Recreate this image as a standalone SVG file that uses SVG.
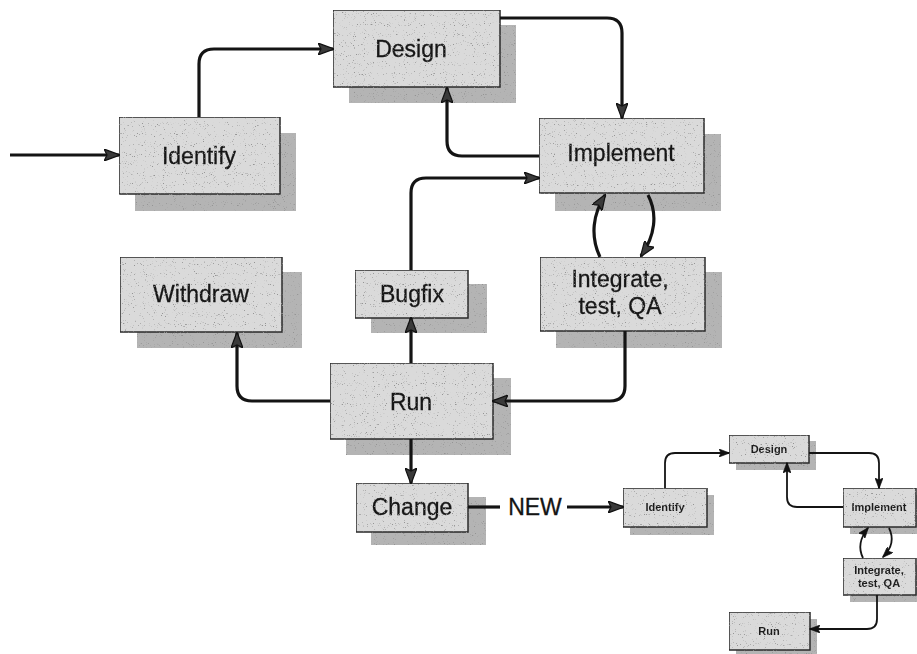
<svg xmlns="http://www.w3.org/2000/svg" width="917" height="654" viewBox="0 0 917 654">
  <style>
    .box { fill: #dadada; stroke: #2a2a2a; stroke-width: 1.5; }
    .shadow { fill: #b4b4b4; }
    .lbl { font-family: "Liberation Sans", Arial, sans-serif; font-size: 23px; fill: #141414; stroke: #141414; stroke-width: 0.3; text-anchor: middle; }
    .sm { font-family: "Liberation Sans", Arial, sans-serif; font-size: 11px; font-weight: bold; fill: #1e1e1e; text-anchor: middle; }
    .wire { fill: none; stroke: #141414; stroke-width: 3.2; }
    .wire-sm { fill: none; stroke: #141414; stroke-width: 1.8; }
  </style>
  <defs>
    <!-- sparse speckled print texture for the boxes and their drop shadows -->
    <filter id="grain" x="0" y="0" width="100%" height="100%">
      <feTurbulence type="fractalNoise" baseFrequency="0.9" numOctaves="1" seed="7" result="noise"/>
      <feColorMatrix in="noise" type="matrix" values="0 0 0 0 0.3  0 0 0 0 0.3  0 0 0 0 0.3  -9 0 0 0 3.2" result="dots"/>
      <feComposite in="dots" in2="SourceGraphic" operator="in" result="clip"/>
      <feMerge><feMergeNode in="SourceGraphic"/><feMergeNode in="clip"/></feMerge>
    </filter>
    <marker id="arr" viewBox="0 0 16 12" refX="15" refY="6" markerWidth="16" markerHeight="12" markerUnits="userSpaceOnUse" orient="auto">
      <path d="M0,0 L16,6 L0,12 L3,6 Z" fill="#3a3a3a" stroke="#111" stroke-width="1.2"/>
    </marker>
    <marker id="arr-sm" viewBox="0 0 16 12" refX="15" refY="6" markerWidth="11" markerHeight="8" markerUnits="userSpaceOnUse" orient="auto">
      <path d="M0,0 L16,6 L0,12 L3,6 Z" fill="#111" stroke="#111" stroke-width="1"/>
    </marker>
  </defs>

  <rect width="917" height="654" fill="#ffffff"/>

  <!-- main lifecycle -->
  <g id="identify" filter="url(#grain)">
    <rect class="shadow" x="135" y="133" width="161" height="78"/>
    <rect class="box" x="119" y="117" width="161" height="77"/>
    <text class="lbl" x="199" y="164">Identify</text>
  </g>
  <g id="design" filter="url(#grain)">
    <rect class="shadow" x="349" y="25" width="167" height="78"/>
    <rect class="box" x="333" y="10" width="167" height="77"/>
    <text class="lbl" x="411" y="57">Design</text>
  </g>
  <g id="implement" filter="url(#grain)">
    <rect class="shadow" x="555" y="134" width="166" height="77"/>
    <rect class="box" x="539" y="118" width="165" height="75"/>
    <text class="lbl" x="621" y="161">Implement</text>
  </g>
  <g id="integrate" filter="url(#grain)">
    <rect class="shadow" x="556" y="272" width="166" height="76"/>
    <rect class="box" x="540" y="257" width="165" height="74"/>
    <text class="lbl" x="620" y="287">Integrate,</text>
    <text class="lbl" x="620" y="314">test, QA</text>
  </g>
  <g id="withdraw" filter="url(#grain)">
    <rect class="shadow" x="137" y="272" width="165" height="76"/>
    <rect class="box" x="120" y="257" width="162" height="75"/>
    <text class="lbl" x="201" y="302">Withdraw</text>
  </g>
  <g id="bugfix" filter="url(#grain)">
    <rect class="shadow" x="371" y="284" width="116" height="49"/>
    <rect class="box" x="355" y="270" width="113" height="48"/>
    <text class="lbl" x="412" y="302">Bugfix</text>
  </g>
  <g id="run" filter="url(#grain)">
    <rect class="shadow" x="346" y="378" width="165" height="77"/>
    <rect class="box" x="330" y="363" width="163" height="76"/>
    <text class="lbl" x="411" y="410">Run</text>
  </g>
  <g id="change" filter="url(#grain)">
    <rect class="shadow" x="371" y="497" width="115" height="48"/>
    <rect class="box" x="356" y="483" width="112" height="49"/>
    <text class="lbl" x="412" y="515">Change</text>
  </g>

  <!-- the cycle started again, in miniature -->
  <g id="identify-new" filter="url(#grain)">
    <rect class="shadow" x="630" y="495" width="84" height="40"/>
    <rect class="box" x="623" y="488" width="84" height="39"/>
    <text class="sm" x="665" y="511">Identify</text>
  </g>
  <g id="design-new" filter="url(#grain)">
    <rect class="shadow" x="736" y="441" width="80" height="29"/>
    <rect class="box" x="729" y="435" width="80" height="28"/>
    <text class="sm" x="769" y="453">Design</text>
  </g>
  <g id="implement-new" filter="url(#grain)">
    <rect class="shadow" x="850" y="495" width="67" height="39"/>
    <rect class="box" x="843" y="488" width="73" height="39"/>
    <text class="sm" x="879" y="511">Implement</text>
  </g>
  <g id="integrate-new" filter="url(#grain)">
    <rect class="shadow" x="850" y="565" width="67" height="37"/>
    <rect class="box" x="843" y="558" width="73" height="37"/>
    <text class="sm" x="879" y="574">Integrate,</text>
    <text class="sm" x="879" y="587">test, QA</text>
  </g>
  <g id="run-new" filter="url(#grain)">
    <rect class="shadow" x="736" y="619" width="81" height="35"/>
    <rect class="box" x="729" y="612" width="81" height="38"/>
    <text class="sm" x="769" y="635">Run</text>
  </g>

  <g id="connectors">
    <path class="wire" d="M10,155 H119" marker-end="url(#arr)"/>
    <path class="wire" d="M199,117 V64 Q199,49 214,49 H333" marker-end="url(#arr)"/>
    <path class="wire" d="M500,18 H607 Q622,18 622,33 V118" marker-end="url(#arr)"/>
    <path class="wire" d="M539,156 H462 Q447,156 447,141 V88" marker-end="url(#arr)"/>
    <path class="wire" d="M411,270 V193 Q411,178 426,178 H539" marker-end="url(#arr)"/>
    <path class="wire" d="M600,257 C590,236 593,214 605,195" marker-end="url(#arr)"/>
    <path class="wire" d="M648,195 C658,214 655,236 641,256" marker-end="url(#arr)"/>
    <path class="wire" d="M625,331 V386 Q625,401 610,401 H493" marker-end="url(#arr)"/>
    <path class="wire" d="M330,401 H252 Q237,401 237,386 V333" marker-end="url(#arr)"/>
    <path class="wire" d="M411,363 V318" marker-end="url(#arr)"/>
    <path class="wire" d="M411,439 V483" marker-end="url(#arr)"/>
    <path class="wire" d="M468,507 H500"/>
    <text class="lbl" x="535" y="515">NEW</text>
    <path class="wire" d="M567,507 H623" marker-end="url(#arr)"/>

    <path class="wire-sm" d="M665,488 V463 Q665,453 675,453 H729" marker-end="url(#arr-sm)"/>
    <path class="wire-sm" d="M809,453 H869 Q879,453 879,463 V488" marker-end="url(#arr-sm)"/>
    <path class="wire-sm" d="M843,507 H797 Q787,507 787,497 V463" marker-end="url(#arr-sm)"/>
    <path class="wire-sm" d="M863,558 C858,548 860,538 868,528" marker-end="url(#arr-sm)"/>
    <path class="wire-sm" d="M889,528 C894,538 892,548 883,557" marker-end="url(#arr-sm)"/>
    <path class="wire-sm" d="M877,595 V619 Q877,629 867,629 H810" marker-end="url(#arr-sm)"/>
  </g>
</svg>
